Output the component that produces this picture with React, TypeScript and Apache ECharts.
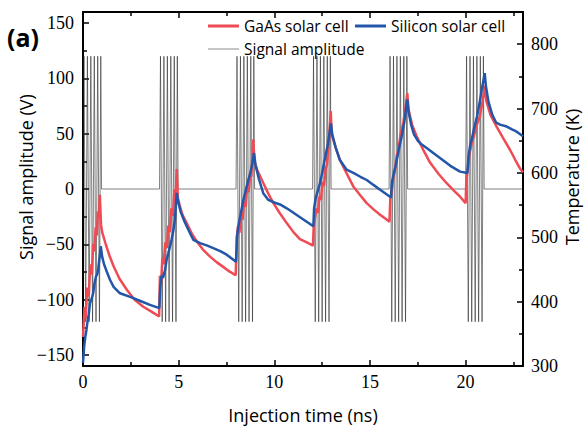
import React, { useEffect, useRef } from 'react';
import * as echarts from 'echarts';

// ---- tick values ----
const xMajorTicks = [0, 5, 10, 15, 20];
const xMinorTicks = [2.5, 7.5, 12.5, 17.5, 22.5];
const leftMajorTicks = [-150, -100, -50, 0, 50, 100, 150];
const leftMinorTicks = [-125, -75, -25, 25, 75, 125];
const rightMajorTicks = [300, 400, 500, 600, 700, 800];
const rightMinorTicks = [350, 450, 550, 650, 750];

// ---- signal amplitude (V): bursts of oscillation, zero between bursts ----
const burstStarts = [0, 4, 8, 12, 16, 20];
const burstOffsets = [0, 0.05, 0.14, 0.23, 0.32, 0.41, 0.5, 0.59, 0.68, 0.77, 0.86, 0.93, 0.97];
const burstValues = [0, 120, -120, 120, -120, 120, -120, 120, -120, 120, -120, 120, 0];
const signalEnd = [23, 0];

// ---- GaAs solar cell temperature (K) : [ns, K] ----
const gaas: number[][] = [
  [0, 345], [0.08, 392], [0.14, 374], [0.22, 422], [0.3, 408], [0.38, 458], [0.46, 442], [0.53, 490], [0.6, 478],
  [0.66, 515], [0.72, 503], [0.78, 540], [0.82, 530], [0.88, 566], [0.94, 520], [1.0, 508], [1.2, 488], [1.4, 470],
  [1.6, 455], [1.9, 436], [2.3, 418], [2.7, 403], [3.15, 392], [3.6, 384], [3.98, 377],
  [4.02, 440], [4.08, 428], [4.15, 468], [4.22, 458], [4.3, 492], [4.38, 483], [4.46, 518], [4.54, 508], [4.62, 545],
  [4.7, 533], [4.78, 575], [4.84, 563], [4.9, 606], [4.96, 560], [5.05, 550], [5.2, 535], [5.42, 522], [5.7, 505],
  [5.94, 494], [6.3, 480], [6.64, 470], [7.0, 461], [7.33, 454], [7.65, 447], [7.98, 441],
  [8.04, 500], [8.1, 517], [8.18, 507], [8.26, 536], [8.34, 527], [8.42, 556], [8.5, 547], [8.58, 578], [8.66, 570],
  [8.74, 600], [8.8, 594], [8.9, 652], [8.96, 618], [9.1, 605], [9.43, 584], [9.7, 567], [9.95, 553], [10.3, 537],
  [10.65, 522], [11.0, 508], [11.34, 497], [11.7, 492], [12.02, 487],
  [12.06, 517], [12.14, 532], [12.2, 545], [12.28, 538], [12.36, 563], [12.44, 558], [12.52, 586], [12.6, 580],
  [12.68, 606], [12.76, 614], [12.84, 642], [12.95, 696], [13.0, 660], [13.2, 640], [13.43, 620], [13.8, 598],
  [14.13, 579], [14.5, 565], [14.83, 553], [15.2, 543], [15.53, 535], [15.8, 529], [16.02, 524],
  [16.06, 558], [16.14, 572], [16.22, 592], [16.3, 603], [16.4, 626], [16.5, 638], [16.6, 660], [16.74, 677],
  [16.85, 700], [16.95, 724], [17.02, 698], [17.2, 675], [17.44, 657], [17.8, 635], [18.14, 616], [18.6, 598],
  [19.01, 584], [19.4, 572], [19.71, 563], [20.0, 553],
  [20.04, 590], [20.12, 608], [20.2, 630], [20.3, 643], [20.4, 654], [20.5, 665], [20.6, 676], [20.75, 688],
  [20.88, 710], [21.01, 735], [21.08, 712], [21.3, 690], [21.62, 672], [22.0, 652], [22.32, 636], [22.6, 620],
  [22.84, 607], [23, 601],
];

// ---- Silicon solar cell temperature (K) : [ns, K] ----
const silicon: number[][] = [
  [0, 305], [0.06, 330], [0.12, 345], [0.18, 356], [0.25, 372], [0.3, 380], [0.37, 398], [0.45, 404], [0.53, 413],
  [0.6, 428], [0.68, 439], [0.75, 443], [0.8, 452], [0.87, 470], [0.93, 486], [1.0, 470], [1.1, 458], [1.25, 446],
  [1.41, 434], [1.6, 423], [1.93, 413], [2.5, 407], [3.0, 401], [3.5, 395], [3.99, 390],
  [4.04, 423], [4.1, 440], [4.18, 437], [4.29, 449], [4.37, 465], [4.45, 474], [4.54, 485], [4.63, 496], [4.72, 510],
  [4.8, 527], [4.9, 569], [4.98, 555], [5.1, 540], [5.3, 525], [5.5, 512], [5.77, 496], [6.12, 491], [6.5, 487],
  [6.81, 483], [7.2, 478], [7.51, 473], [8.0, 462],
  [8.05, 500], [8.12, 517], [8.2, 530], [8.3, 545], [8.4, 560], [8.5, 572], [8.56, 579], [8.65, 590], [8.75, 600],
  [8.85, 615], [8.94, 631], [9.02, 612], [9.2, 590], [9.43, 568], [9.69, 558], [10.0, 554], [10.3, 551],
  [10.65, 545], [11.0, 538], [11.5, 528], [12.04, 517],
  [12.08, 545], [12.16, 560], [12.25, 570], [12.39, 584], [12.5, 600], [12.6, 615], [12.7, 630], [12.8, 645],
  [12.96, 677], [13.03, 660], [13.2, 640], [13.43, 620], [13.78, 605], [14.13, 600], [14.5, 594], [14.83, 589],
  [15.2, 581], [15.53, 574], [16.05, 563],
  [16.1, 562], [16.15, 585], [16.25, 600], [16.35, 612], [16.5, 635], [16.66, 657], [16.8, 680], [16.95, 714],
  [17.02, 695], [17.15, 675], [17.3, 660], [17.5, 650], [17.71, 644], [18.0, 638], [18.31, 631], [18.8, 620],
  [19.2, 611], [19.71, 602], [20.09, 600],
  [20.15, 625], [20.25, 645], [20.32, 652], [20.45, 670], [20.6, 688], [20.75, 712], [20.84, 729], [21.0, 755],
  [21.06, 735], [21.2, 710], [21.4, 690], [21.6, 678], [21.8, 675], [22.15, 672], [22.4, 668], [22.67, 664],
  [23.0, 657],
];

const RED = '#ee4b55';
const BLUE = '#2356a8';
const SIGNAL = '#2a2a2a';
const SERIF = 'Liberation Serif';
const SANS = 'Open Sans';

const fmt = (v: number) => '{n|' + (v < 0 ? '\u2212' + Math.abs(v) : String(v)) + '}';

function buildSignal(): number[][] {
  const out: number[][] = [];
  burstStarts.forEach((s) => {
    burstOffsets.forEach((o, i) => out.push([s + o, burstValues[i]]));
  });
  out.push(signalEnd);
  return out;
}

export default function App() {
  const ref = useRef<HTMLDivElement>(null);
  useEffect(() => {
    if (!ref.current) return;
    const chart = echarts.init(ref.current, undefined, { renderer: 'svg' });
    const axisLine = { show: true, onZero: false, lineStyle: { color: '#000', width: 2 } };
    const hiddenLine = { show: false, onZero: false };
    const majorTick = (vals: number[]) => ({
      show: true, inside: true, length: 6, customValues: vals, lineStyle: { color: '#000', width: 1.5 },
    });
    const minorTick = (vals: number[]) => ({
      show: true, inside: true, length: 4, customValues: vals, lineStyle: { color: '#000', width: 1.5 },
    });
    const numStyle = { color: '#000', fontFamily: SERIF, fontSize: 18, fontWeight: 'normal' as const };
    const labelStyle = { ...numStyle, rich: { n: numStyle } };
    const noLabel = { show: false };
    const noSplit = { show: false };
    const baseX = { type: 'value' as const, min: 0, max: 23, splitLine: noSplit };
    const baseL = { type: 'value' as const, min: -160, max: 160, splitLine: noSplit };
    const baseR = { type: 'value' as const, min: 300, max: 850, splitLine: noSplit };
    const legendText = { color: '#000', fontFamily: SANS, fontSize: 15.5 };

    chart.setOption({
      animation: false,
      backgroundColor: '#fff',
      grid: { left: 83, right: 62, top: 12, bottom: 61, containLabel: false, outerBoundsMode: 'none' },
      xAxis: [
        { ...baseX, position: 'bottom', axisLine, axisTick: majorTick(xMajorTicks),
          axisLabel: { ...labelStyle, margin: 7, customValues: xMajorTicks, formatter: fmt } },
        { ...baseX, position: 'bottom', axisLine: hiddenLine, axisTick: minorTick(xMinorTicks), axisLabel: noLabel },
        { ...baseX, position: 'top', axisLine, axisTick: majorTick(xMajorTicks), axisLabel: noLabel },
        { ...baseX, position: 'top', axisLine: hiddenLine, axisTick: minorTick(xMinorTicks), axisLabel: noLabel },
      ],
      yAxis: [
        { ...baseL, position: 'left', axisLine, axisTick: majorTick(leftMajorTicks),
          axisLabel: { ...labelStyle, margin: 9, customValues: leftMajorTicks, formatter: fmt } },
        { ...baseL, position: 'left', axisLine: hiddenLine, axisTick: minorTick(leftMinorTicks), axisLabel: noLabel },
        { ...baseR, position: 'right', axisLine, axisTick: majorTick(rightMajorTicks),
          axisLabel: { ...labelStyle, margin: 8, customValues: rightMajorTicks, formatter: fmt } },
        { ...baseR, position: 'right', axisLine: hiddenLine, axisTick: minorTick(rightMinorTicks), axisLabel: noLabel },
      ],
      legend: [
        { data: ['GaAs solar cell'], left: 203, top: 13, icon: 'rect', itemWidth: 31, itemHeight: 3,
          itemStyle: { color: RED }, textStyle: legendText },
        { data: ['Silicon solar cell'], left: 350, top: 13, icon: 'rect', itemWidth: 31, itemHeight: 3,
          itemStyle: { color: BLUE }, textStyle: legendText },
        { data: ['Signal amplitude'], left: 203, top: 36, icon: 'rect', itemWidth: 31, itemHeight: 1,
          itemStyle: { color: '#8a8a8a' }, textStyle: legendText },
      ],
      graphic: [
        { type: 'text', left: 7, top: 24, style: { text: '(a)', fontFamily: SANS, fontWeight: 'bold', fontSize: 25, fill: '#000' } },
        { type: 'text', x: 26, y: 177, rotation: Math.PI / 2,
          style: { text: 'Signal amplitude (V)', fontFamily: SANS, fontSize: 18, fill: '#000', align: 'center', verticalAlign: 'middle' } },
        { type: 'text', x: 572, y: 177, rotation: Math.PI / 2,
          style: { text: 'Temperature (K)', fontFamily: SANS, fontSize: 18, fill: '#000', align: 'center', verticalAlign: 'middle' } },
        { type: 'text', x: 303, y: 415,
          style: { text: 'Injection time (ns)', fontFamily: SANS, fontSize: 18, fill: '#000', align: 'center', verticalAlign: 'middle' } },
      ],
      series: [
        { name: 'Signal amplitude', type: 'line', xAxisIndex: 0, yAxisIndex: 0, data: buildSignal(), symbol: 'none',
          lineStyle: { color: SIGNAL, width: 0.6 }, itemStyle: { color: '#8a8a8a' }, z: 1 },
        { name: 'GaAs solar cell', type: 'line', xAxisIndex: 0, yAxisIndex: 2, data: gaas, symbol: 'none',
          lineStyle: { color: RED, width: 2.5 }, itemStyle: { color: RED }, z: 2 },
        { name: 'Silicon solar cell', type: 'line', xAxisIndex: 0, yAxisIndex: 2, data: silicon, symbol: 'none',
          lineStyle: { color: BLUE, width: 2.5 }, itemStyle: { color: BLUE }, z: 3 },
      ],
    });
    return () => chart.dispose();
  }, []);
  return <div ref={ref} style={{ position: 'absolute', left: 0, top: 0, width: 585, height: 427, background: '#fff' }} />;
}
